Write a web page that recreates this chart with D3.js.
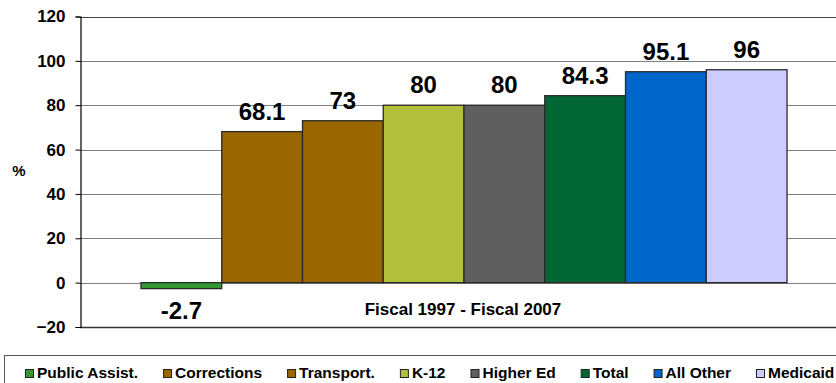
<!DOCTYPE html>
<html>
<head>
<meta charset="utf-8">
<script src="https://cdn.jsdelivr.net/npm/d3@7"></script>
<style>
  body { margin: 0; background: #fff; }
  svg { display: block; font-family: Arial, "Liberation Sans", sans-serif; }
</style>
</head>
<body>
<svg id="chart" width="836" height="383"></svg>
<script>
const categories = ["Public Assist.", "Corrections", "Transport.", "K-12", "Higher Ed", "Total", "All Other", "Medicaid"];
const values = [-2.7, 68.1, 73, 80, 80, 84.3, 95.1, 96];
const colors = ["#339933", "#996600", "#996600", "#B2C03C", "#5F5F5F", "#006633", "#0066CC", "#CCCCFF"];
const yTicks = [-20, 0, 20, 40, 60, 80, 100, 120];
const axisLabel = "%";
const periodLabel = "Fiscal 1997 - Fiscal 2007";

const svg = d3.select("#chart");
const plot = { left: 80, right: 848, top: 16.5, bottom: 327 };

const y = d3.scaleLinear().domain([-20, 120]).range([plot.bottom, plot.top]);
const x = d3.scaleBand().domain(categories).range([plot.left, plot.right])
  .paddingInner(0).paddingOuter(0.755);

// gridlines
svg.append("g").selectAll("line").data(yTicks.filter(t => t > -20)).join("line")
  .attr("x1", plot.left).attr("x2", plot.right)
  .attr("y1", d => Math.round(y(d)) + 0.5).attr("y2", d => Math.round(y(d)) + 0.5)
  .attr("stroke", d => d === 120 ? "#444" : "#7f7f7f").attr("stroke-width", 1);

// bottom border
svg.append("line").attr("x1", plot.left).attr("x2", plot.right)
  .attr("y1", Math.round(y(-20)) + 0.5).attr("y2", Math.round(y(-20)) + 0.5)
  .attr("stroke", "#333").attr("stroke-width", 1.5);

// bars
svg.append("g").selectAll("rect").data(values).join("rect")
  .attr("x", (d, i) => x(categories[i]))
  .attr("width", x.bandwidth())
  .attr("y", d => y(Math.max(0, d)))
  .attr("height", d => Math.abs(y(d) - y(0)))
  .attr("fill", (d, i) => colors[i])
  .attr("stroke", "#2a2a2a").attr("stroke-width", 1.3);

// y axis
const yAxis = d3.axisLeft(y).tickValues(yTicks).tickSize(5).tickPadding(10).tickFormat(d3.format("d"));
const ga = svg.append("g").attr("transform", `translate(${plot.left + 0.5},0)`).call(yAxis);
ga.select(".domain").attr("stroke", "#000").attr("stroke-width", 1.2);
ga.selectAll(".tick line").attr("stroke", "#000");
ga.selectAll(".tick text").attr("font-size", 17).attr("font-weight", "bold").attr("fill", "#000")
  .attr("font-family", "Arial, 'Liberation Sans', sans-serif");

// axis label
svg.append("text").attr("x", 19).attr("y", 176).attr("text-anchor", "middle")
  .attr("font-size", 15).attr("font-weight", "bold").text(axisLabel);

// value labels
svg.append("g").selectAll("text").data(values).join("text")
  .attr("x", (d, i) => x(categories[i]) + x.bandwidth() / 2)
  .attr("y", d => d >= 0 ? y(d) - 12 : y(d) + 30)
  .attr("text-anchor", "middle")
  .attr("font-size", 24).attr("font-weight", "bold").attr("fill", "#000")
  .text(d => d);

// period label
svg.append("text").attr("x", 463).attr("y", 315).attr("text-anchor", "middle")
  .attr("font-size", 17).attr("font-weight", "bold").text(periodLabel);

// legend
svg.append("rect").attr("x", 4.5).attr("y", 355.5).attr("width", 900).attr("height", 60)
  .attr("fill", "#fff").attr("stroke", "#555").attr("stroke-width", 1);
const lg = svg.append("g");
let lx = 25;
categories.forEach((c, i) => {
  lg.append("rect").attr("x", lx + 0.5).attr("y", 369.5).attr("width", 8).attr("height", 8)
    .attr("fill", colors[i]).attr("stroke", "#222").attr("stroke-width", 1);
  const t = lg.append("text").attr("x", lx + 12).attr("y", 378)
    .attr("font-size", 15.5).attr("font-weight", "bold").text(c);
  const w = t.node().getComputedTextLength();
  lx += 12 + w + 25;
});
</script>
</body>
</html>
